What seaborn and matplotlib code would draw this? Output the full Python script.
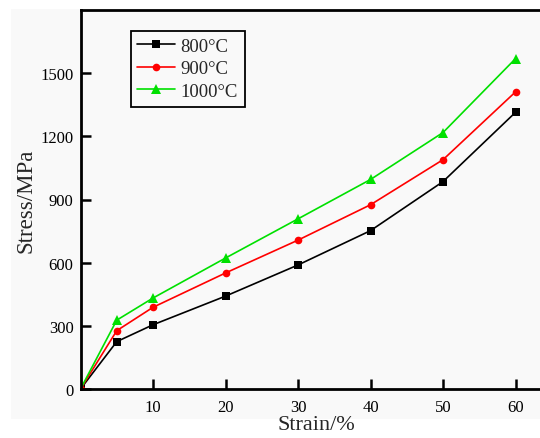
import matplotlib
matplotlib.use("Agg")
import matplotlib.pyplot as plt
import seaborn as sns
import pandas as pd
from matplotlib.patches import Rectangle

strain = [0, 5, 10, 20, 30, 40, 50, 60]
stress_800 = [0, 225, 305, 441, 589, 752, 985, 1314]
stress_900 = [0, 277, 388, 551, 707, 875, 1089, 1411]
stress_1000 = [0, 327, 432, 622, 808, 995, 1218, 1569]
labels = ["800°C", "900°C", "1000°C"]
colors = ["#000000", "#ff0000", "#00e000"]
markers = ["s", "o", "^"]

sns.set_style("ticks")
plt.rcParams['font.family'] = ['Liberation Serif', 'DejaVu Serif']

fig = plt.figure(figsize=(5.4, 4.39), dpi=100)
fig.patch.set_facecolor("white")
fig.patches.append(Rectangle((11/540, 19/439), 1 - 11/540, 1 - 19/439 - 10/439,
                             transform=fig.transFigure, facecolor="#f9f9f9",
                             edgecolor="none", zorder=-10))
ax = fig.add_axes([80.5/540, 49/439, 471.25/540, 379/439])
ax.set_facecolor("#f9f9f9")

for ys, lab, c, m in zip([stress_800, stress_900, stress_1000], labels, colors, markers):
    df = pd.DataFrame({"Strain": strain, "Stress": ys})
    sns.lineplot(data=df, x="Strain", y="Stress", ax=ax, color=c, marker=m,
                 markersize=5.5 if m != "^" else 6.5, markeredgewidth=0, linewidth=1.2,
                 label=lab)

ax.set_xlim(0, 65)
ax.set_ylim(0, 1800)
ax.set_xticks([10, 20, 30, 40, 50, 60])
ax.set_yticks([0, 300, 600, 900, 1200, 1500])
ax.tick_params(direction="in", length=7, width=1.8, labelsize=12, colors="black")
ax.tick_params(axis="x", pad=7)
ax.tick_params(axis="y", pad=5)
for s in ["left", "bottom", "top"]:
    ax.spines[s].set_linewidth(2)
    ax.spines[s].set_color("black")
ax.spines["right"].set_visible(False)

ax.set_xlabel("Strain/%", fontsize=16, labelpad=0.5)
ax.set_ylabel("Stress/MPa", fontsize=16.5, labelpad=3)

leg = ax.legend(loc="upper left", bbox_to_anchor=(0.107, 0.945), borderaxespad=0,
                fontsize=13.5, frameon=True, fancybox=False, handlelength=2.0,
                handletextpad=0.3, labelspacing=0.3, borderpad=0.35)
leg.get_frame().set_edgecolor("black")
leg.get_frame().set_linewidth(1.3)
leg.get_frame().set_facecolor("#f9f9f9")
leg.get_frame().set_alpha(1)

fig.savefig("out.png", dpi=100)
